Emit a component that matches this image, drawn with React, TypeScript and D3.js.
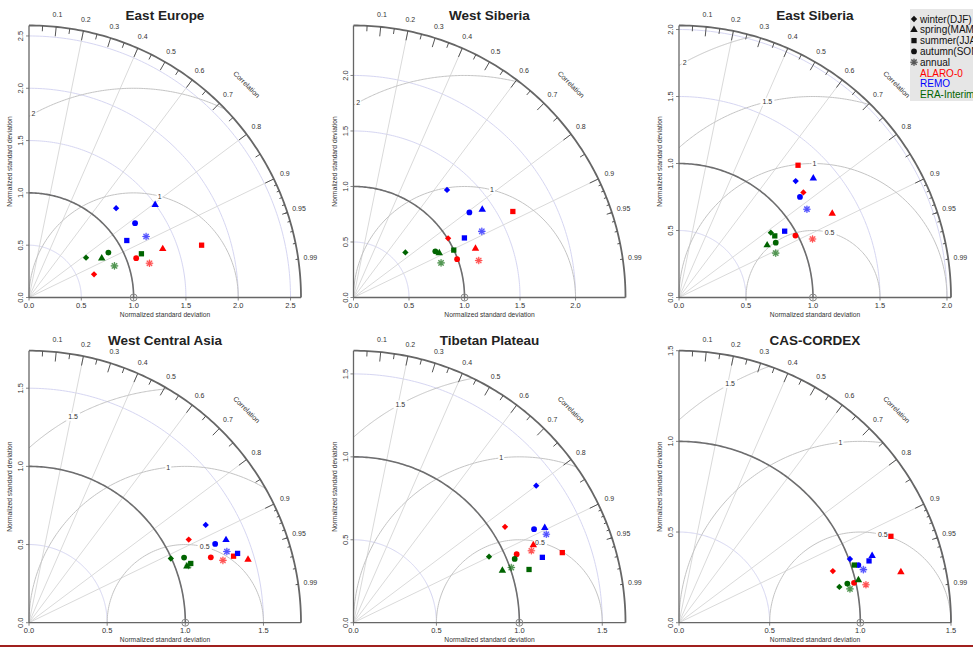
import React from 'react'
import * as d3 from 'd3'

// Taylor diagrams of normalized standard deviation and correlation, six regions
const regions = ['East Europe', 'West Siberia', 'East Siberia', 'West Central Asia', 'Tibetan Plateau', 'CAS-CORDEX']
const seasons = ['winter(DJF)', 'spring(MAM)', 'summer(JJA)', 'autumn(SON)', 'annual']
const models = ['ALARO-0', 'REMO', 'ERA-Interim']
const modelColors = ['#ff0000', '#0000ff', '#006400']

const maxSd = [2.6, 2.45, 2.03, 1.74, 1.64, 1.5]
const sdTickStep = 0.5
const rmsLevels = [[1, 2], [1, 2], [0.5, 1, 1.5, 2], [0.5, 1, 1.5], [0.5, 1, 1.5], [0.5, 1, 1.5]]
const corLabels = [0.1, 0.2, 0.3, 0.4, 0.5, 0.6, 0.7, 0.8, 0.9, 0.95, 0.99]
const corLines = [0.2, 0.4, 0.6, 0.8, 0.9]

// rows: region, columns: winter, spring, summer, autumn, annual
const sdAlaro = [
  [0.66, 1.36, 1.724, 1.091, 1.197],
  [1.005, 1.184, 1.631, 0.995, 1.176],
  [1.215, 1.304, 1.328, 0.984, 1.088],
  [1.152, 1.458, 1.376, 1.236, 1.303],
  [1.081, 1.181, 1.328, 1.067, 1.157],
  [0.895, 1.255, 1.262, 0.99, 1.052],
]
const corAlaro = [
  [0.942, 0.94, 0.957, 0.939, 0.962],
  [0.848, 0.928, 0.88, 0.938, 0.959],
  [0.764, 0.877, 0.669, 0.883, 0.916],
  [0.887, 0.961, 0.951, 0.941, 0.952],
  [0.845, 0.918, 0.948, 0.922, 0.927],
  [0.948, 0.975, 0.926, 0.975, 0.98],
]
const sdRemo = [
  [1.193, 1.496, 1.082, 1.238, 1.262],
  [1.284, 1.404, 1.134, 1.295, 1.3],
  [1.23, 1.34, 0.931, 1.174, 1.16],
  [1.292, 1.367, 1.406, 1.293, 1.345],
  [1.377, 1.287, 1.205, 1.226, 1.279],
  [1.006, 1.127, 1.102, 1.039, 1.058],
]
const corRemo = [
  [0.698, 0.806, 0.864, 0.819, 0.887],
  [0.656, 0.826, 0.881, 0.806, 0.889],
  [0.708, 0.748, 0.847, 0.769, 0.823],
  [0.875, 0.922, 0.949, 0.921, 0.941],
  [0.8, 0.896, 0.945, 0.888, 0.909],
  [0.937, 0.945, 0.951, 0.952, 0.961],
]
const sdEra = [
  [0.665, 0.79, 1.153, 0.872, 0.871],
  [0.619, 0.87, 0.999, 0.846, 0.848],
  [0.839, 0.765, 0.85, 0.83, 0.794],
  [0.996, 1.072, 1.102, 1.076, 1.084],
  [0.909, 0.951, 1.106, 1.045, 1.008],
  [0.906, 1.017, 1.018, 0.953, 0.961],
]
const corEra = [
  [0.82, 0.88, 0.932, 0.87, 0.938],
  [0.755, 0.888, 0.904, 0.871, 0.93],
  [0.817, 0.86, 0.841, 0.87, 0.909],
  [0.911, 0.942, 0.939, 0.922, 0.941],
  [0.899, 0.944, 0.957, 0.93, 0.944],
  [0.976, 0.973, 0.95, 0.974, 0.981],
]

const sdByModel = [sdAlaro, sdRemo, sdEra]
const corByModel = [corAlaro, corRemo, corEra]

const W = 973
const H = 649
const R = 272
const colX = [29, 353.5, 679]
const rowY = [297.5, 622.7]
const FONT = '"Liberation Sans", Arial, Helvetica, sans-serif'

const symbolPath = (s: number) => {
  if (s === 0) return d3.symbol(d3.symbolSquare, 20)()
  if (s === 1) return d3.symbol(d3.symbolTriangle, 24)()
  if (s === 2) return d3.symbol(d3.symbolSquare, 28)()
  return d3.symbol(d3.symbolCircle, 26)()
}

function Marker({ s, x, y, color }: { s: number; x: number; y: number; color: string }) {
  if (s === 4) {
    return (
      <g transform={`translate(${x},${y})`}>
        <circle r={3.3} fill={color} fillOpacity={0.2} />
        <path d="M-3.8,0H3.8M0,-3.8V3.8M-2.7,-2.7L2.7,2.7M-2.7,2.7L2.7,-2.7"
          stroke={color} strokeOpacity={0.6} strokeWidth={1.1} fill="none" />
      </g>
    )
  }
  return (
    <path d={symbolPath(s) as string} fill={color}
      transform={`translate(${x},${y})${s === 0 ? ' rotate(45)' : ''}`} />
  )
}

function TaylorPanel({ i }: { i: number }) {
  const ox = colX[i % 3]
  const oy = rowY[Math.floor(i / 3)]
  const ms = maxSd[i]
  const x = d3.scaleLinear().domain([0, ms]).range([ox, ox + R])
  const y = d3.scaleLinear().domain([0, ms]).range([oy, oy - R])
  const line = d3.line<[number, number]>().x(d => x(d[0])).y(d => y(d[1]))

  const arc = (cx: number, r: number, a0: number, a1: number) =>
    line(d3.range(121).map(k => {
      const a = a0 + (a1 - a0) * k / 120
      return [cx + r * Math.cos(a), r * Math.sin(a)] as [number, number]
    })) as string

  const ticks = d3.range(0, ms + 1e-9, sdTickStep)
  const fmt = d3.format('.1f')
  const pol = (c: number, r: number): [number, number] => [x(r * c), y(r * Math.sqrt(1 - c * c))]

  const rms = rmsLevels[i]
  const bigTicks = d3.range(1, 10).map(k => k / 10)
  const medTicks = d3.range(0, 10).map(k => 0.05 + k / 10)
  const smlTicks = d3.range(1, 10).map(k => 0.9 + k / 100)

  return (
    <g fontFamily={FONT}>
      <text x={ox + 136} y={oy - 277.5} textAnchor="middle" fontSize={13.5} fontWeight="bold" fill="#222">
        {regions[i]}
      </text>

      {/* sd arcs */}
      {ticks.filter(t => t > 0).map(t => (
        <path key={`sd${t}`} d={arc(0, t, 0, Math.PI / 2)} fill="none" stroke="#d6d6f2" strokeWidth={1} />
      ))}

      {/* correlation rays */}
      {corLines.map(c => {
        const [px, py] = pol(c, ms)
        return <line key={`cl${c}`} x1={ox} y1={oy} x2={px} y2={py} stroke="#dadada" strokeWidth={1} />
      })}

      {/* centred RMS contours */}
      {rms.map(g => {
        const cs = (ms * ms - 1 - g * g) / (2 * g)
        const a0 = cs >= 1 ? 0 : Math.acos(Math.max(-1, cs))
        const a1 = g > 1 ? Math.acos(-1 / g) : Math.PI
        return <path key={`g${g}`} d={arc(1, g, a0, a1)} fill="none" stroke="#c4c4c4" strokeWidth={1} />
      })}

      {/* reference sd arc */}
      <path d={arc(0, 1, 0, Math.PI / 2)} fill="none" stroke="#6e6e6e" strokeWidth={1.6} />

      {/* axes and outer arc */}
      <line x1={ox} y1={oy} x2={ox + R} y2={oy} stroke="#666" strokeWidth={1.3} />
      <line x1={ox} y1={oy} x2={ox} y2={oy - R} stroke="#666" strokeWidth={1.3} />
      <path d={arc(0, ms, 0, Math.PI / 2)} fill="none" stroke="#666" strokeWidth={1.8} />

      {bigTicks.map(c => {
        const [a, b] = pol(c, ms)
        const [e, f] = pol(c, ms * 0.965)
        return <line key={`bt${c}`} x1={a} y1={b} x2={e} y2={f} stroke="#555" strokeWidth={1} />
      })}
      {medTicks.map(c => {
        const [a, b] = pol(c, ms)
        const [e, f] = pol(c, ms * 0.98)
        return <line key={`mt${c}`} x1={a} y1={b} x2={e} y2={f} stroke="#555" strokeWidth={1} />
      })}
      {smlTicks.map(c => {
        const [a, b] = pol(c, ms)
        const [e, f] = pol(c, ms * 0.99)
        return <line key={`st${c}`} x1={a} y1={b} x2={e} y2={f} stroke="#555" strokeWidth={1} />
      })}

      {corLabels.map(c => {
        const [px, py] = pol(c, ms * 1.045)
        return (
          <text key={`cll${c}`} x={px} y={py} fontSize={7} fill="#333" textAnchor="middle" dominantBaseline="central">
            {String(c)}
          </text>
        )
      })}
      <text transform={`translate(${pol(Math.cos(Math.PI * 44.4 / 180), ms * 1.12).join(',')}) rotate(45)`}
        fontSize={7} fill="#333" textAnchor="middle" dominantBaseline="central">
        Correlation
      </text>

      {/* axis ticks and labels */}
      {ticks.map(t => (
        <g key={`xt${t}`}>
          <line x1={x(t)} y1={oy} x2={x(t)} y2={oy + 3} stroke="#666" strokeWidth={0.8} />
          <text x={x(t)} y={oy + 10.5} fontSize={7.5} fill="#333" textAnchor="middle">{fmt(t)}</text>
          <line x1={ox} y1={y(t)} x2={ox - 3} y2={y(t)} stroke="#666" strokeWidth={0.8} />
          <text transform={`translate(${ox - 6},${y(t)}) rotate(-90)`} fontSize={7.5} fill="#333" textAnchor="middle">
            {fmt(t)}
          </text>
        </g>
      ))}
      <text x={ox + 136} y={oy + 19.5} fontSize={6.7} fill="#333" textAnchor="middle">
        Normalized standard deviation
      </text>
      <text transform={`translate(${ox - 17},${oy - 136}) rotate(-90)`} fontSize={6.7} fill="#333" textAnchor="middle">
        Normalized standard deviation
      </text>

      {/* RMS labels */}
      {rms.map((g, k) => {
        const lp = rms.length > 1 ? Math.floor(45 + (25 * k) / (rms.length - 1)) : 45
        const a = (lp - 1) * 0.03
        const lx = 1 + g * Math.cos(a)
        const ly = g * Math.sin(a)
        if (lx <= 0) return null
        const label = String(g)
        const w = label.length * 4 + 2
        return (
          <g key={`gl${g}`}>
            <rect x={x(lx) - w / 2} y={y(ly) - 4} width={w} height={8} fill="#fff" />
            <text x={x(lx)} y={y(ly)} fontSize={7} fill="#333" textAnchor="middle" dominantBaseline="central">{label}</text>
          </g>
        )
      })}

      {/* observation reference */}
      <circle cx={x(1)} cy={y(0)} r={3.5} fill="none" stroke="#888" strokeWidth={1} />

      {/* model points */}
      {models.map((m, mi) =>
        seasons.map((s, si) => {
          const sd = sdByModel[mi][i][si]
          const c = corByModel[mi][i][si]
          const [px, py] = pol(c, sd)
          return <Marker key={`${m}-${s}`} s={si} x={px} y={py} color={modelColors[mi]} />
        })
      )}
    </g>
  )
}

function Legend() {
  const lx = 910
  const ly = 9
  const step = 10.8
  return (
    <g fontFamily={FONT} fontSize={10}>
      <rect x={lx} y={ly} width={80} height={92} fill="#e6e6e6" />
      {seasons.map((s, k) => (
        <g key={s}>
          <Marker s={k} x={lx + 4} y={ly + 10 + k * step} color="#111" />
          <text x={lx + 10} y={ly + 10 + k * step} dominantBaseline="central" fill="#111">{s}</text>
        </g>
      ))}
      {models.map((m, k) => (
        <text key={m} x={lx + 10} y={ly + 10 + (k + 5) * step} dominantBaseline="central" fill={modelColors[k]}>{m}</text>
      ))}
    </g>
  )
}

export default function App() {
  return (
    <svg width={W} height={H} style={{ position: 'absolute', left: 0, top: 0, background: '#fff' }}>
      {regions.map((r, i) => <TaylorPanel key={r} i={i} />)}
      <Legend />
      <line x1={0} x2={W} y1={646} y2={646} stroke="#a0201e" strokeWidth={2} />
    </svg>
  )
}
